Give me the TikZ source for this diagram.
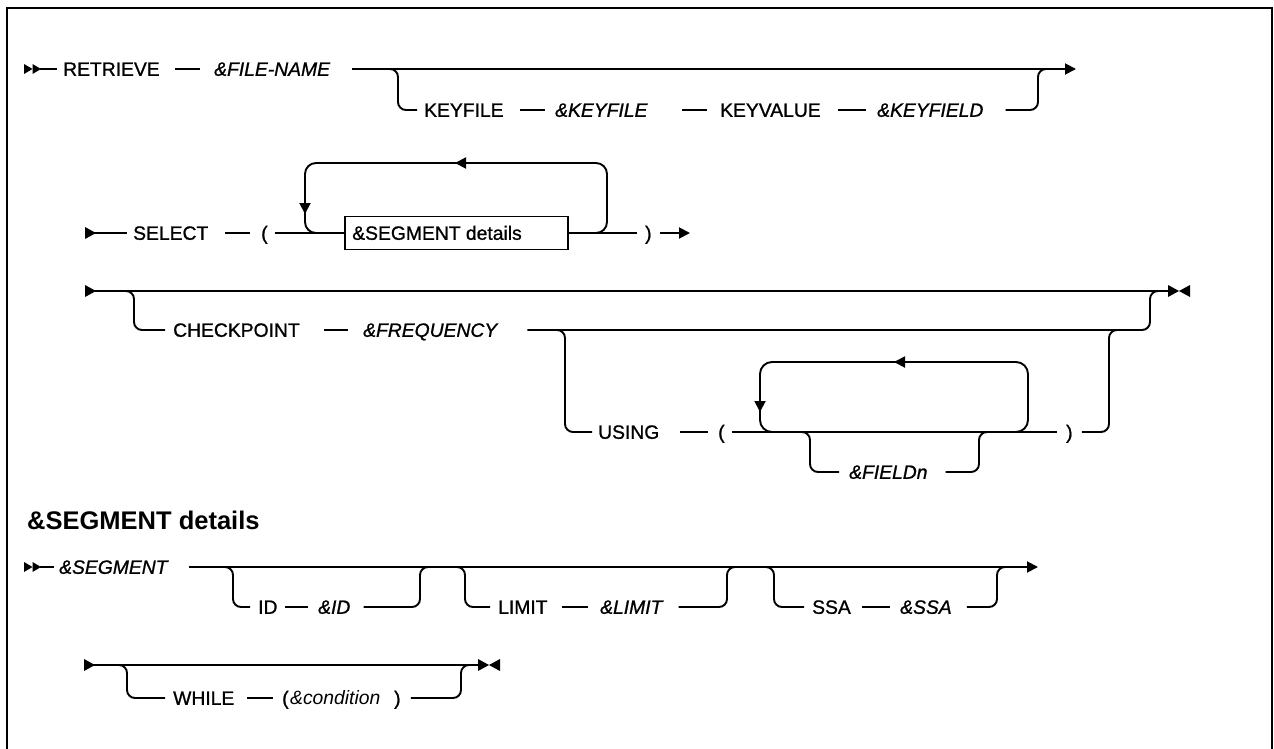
\documentclass[tikz,border=0pt]{standalone}
\usepackage{fontspec}
\setmainfont{Liberation Sans}[UprightFeatures={FakeBold=1.0}, ItalicFeatures={FakeBold=1.0}]
\newfontfamily\condfont{Liberation Sans}
\usetikzlibrary{arrows.meta}
\begin{document}
\begin{tikzpicture}[x=1pt,y=-1pt,
  kwd/.style={anchor=west, inner sep=0pt, font=\fontsize{19.3}{22}\selectfont, text height=14pt, text depth=0.4pt},
  vard/.style={kwd, font=\fontsize{19.3}{22}\selectfont\itshape},
  hdr/.style={anchor=west, inner sep=0pt, font=\fontsize{25.5}{30}\selectfont\bfseries},
  segbox/.style={draw, line width=1.8pt, inner sep=0pt, minimum width=223pt, minimum height=33pt},
  ln/.style={draw, line width=1.9pt},
  rnd/.style={ln, rounded corners=8pt},
  endtip/.style={-{Triangle[length=11pt,width=11pt]}},
]
\useasboundingbox (0,0) rectangle (1274,749);
% frame
\draw[line width=2.4pt] (7,749) -- (7,8) -- (1272,8) -- (1272,749);

% ---------------- Row 1 ----------------
\coordinate (r1s) at (24,69);
\fill (r1s) ++(0,-5) -- ++(8.5,5) -- ++(-8.5,5) -- cycle;
\fill (r1s) ++(8.5,-5) -- ++(8.5,5) -- ++(-8.5,5) -- cycle;
\node[kwd] (ret) at (63,69) {RETRIEVE};
\draw[ln] ([xshift=16pt]r1s) -- ([xshift=-6pt]ret.west);
\node[vard] (fn) at (214,69) {\&FILE-NAME};
\draw[ln] ([xshift=-39pt]fn.west) -- ([xshift=-14pt]fn.west);
\coordinate (r1e) at (1076,69);
\draw[ln,endtip] ([xshift=22pt]fn.east) -- (r1e);
\node[kwd] (kf) at (424,110) {KEYFILE};
\node[vard] (kfv) at (555,110) {\&KEYFILE};
\node[kwd] (kv) at (720,110) {KEYVALUE};
\node[vard] (kfd) at (877,110) {\&KEYFIELD};
\draw[ln] ([xshift=-35pt]kfv.west) -- ([xshift=-10pt]kfv.west);
\draw[ln] ([xshift=-38pt]kv.west) -- ([xshift=-13pt]kv.west);
\draw[ln] ([xshift=-39pt]kfd.west) -- ([xshift=-11pt]kfd.west);
\coordinate (b1l) at (398,69);
\coordinate (b1r) at (1038,69);
\draw[rnd] ([xshift=-14pt]b1l) -- (b1l) -- (b1l |- kf.west) -- ([xshift=-7pt]kf.west);
\draw[rnd] ([xshift=22pt]kfd.east) -- (b1r |- kfd.east) -- (b1r) -- ([xshift=12pt]b1r);

% ---------------- Row 2 ----------------
\coordinate (r2s) at (85,233);
\fill (r2s) ++(0,-6) -- ++(11,6) -- ++(-11,6) -- cycle;
\node[kwd] (sel) at (133,233) {SELECT};
\draw[ln] (r2s) -- ([xshift=-6pt]sel.west);
\node[kwd] (lp1) at (261,233) {(};
\draw[ln] ([xshift=-36pt]lp1.west) -- ([xshift=-11pt]lp1.west);
\node[segbox] (segb) at (456.5,233) {};
\node[kwd] (segt) at ([xshift=8pt]segb.west) {\&SEGMENT details};
\draw[ln] ([xshift=7pt]lp1.east) -- (segb.west);
\node[kwd] (rp1) at (645,233) {)};
\draw[ln] (segb.east) -- ([xshift=-8pt]rp1.west);
\coordinate (r2e) at (690,233);
\draw[ln,endtip] ([xshift=8pt]rp1.east) -- (r2e);
\coordinate (l1bl) at (305,233);
\coordinate (l1tl) at (305,163);
\coordinate (l1tr) at (607,163);
\coordinate (l1br) at (607,233);
\draw[ln, rounded corners=11pt] ([xshift=-22pt]l1br) -- (l1br) -- (l1tr) -- (l1tl) -- (l1bl) -- ([xshift=22pt]l1bl);
\coordinate (a2t) at (455,163);
\draw[ln,endtip] ([xshift=16pt]a2t) -- (a2t);
\coordinate (a2l) at (305,214);
\draw[ln,endtip] ([yshift=16pt]a2l) -- (a2l);

% ---------------- Row 3 ----------------
\coordinate (r3s) at (85,291);
\fill (r3s) ++(0,-6) -- ++(11,6) -- ++(-11,6) -- cycle;
\coordinate (r3e) at (1168,291);
\fill (r3e) ++(0,-6) -- ++(11,6) -- ++(-11,6) -- cycle;
\fill (r3e) ++(22,-6) -- ++(-11,6) -- ++(11,6) -- cycle;
\draw[ln] (r3s) -- (r3e);
\node[kwd] (ck) at (173,330) {CHECKPOINT};
\node[vard] (fq) at (363,330) {\&FREQUENCY};
\draw[ln] ([xshift=-39pt]fq.west) -- ([xshift=-15pt]fq.west);
\coordinate (b3l) at (134,291);
\coordinate (b3r) at (1150,291);
\draw[rnd] ([xshift=-14pt]b3l) -- (b3l) -- (b3l |- ck.west) -- ([xshift=-8pt]ck.west);
\draw[rnd] ([xshift=30pt]fq.east) -- (b3r |- fq.east) -- (b3r) -- ([xshift=10pt]b3r);
% USING
\node[kwd] (us) at (598,432) {USING};
\coordinate (b4l) at (565,330);
\coordinate (b4r) at (1109,330);
\draw[rnd] ([xshift=-12pt]b4l) -- (b4l) -- (b4l |- us.west) -- ([xshift=-6pt]us.west);
\node[kwd] (lp2) at (718,432) {(};
\draw[ln] ([xshift=-38pt]lp2.west) -- ([xshift=-10pt]lp2.west);
\node[kwd] (rp2) at (1066,432) {)};
\draw[ln] ([xshift=7pt]lp2.east) -- ([xshift=-9pt]rp2.west);
\draw[rnd] ([xshift=9pt]rp2.east) -- (b4r |- rp2.east) -- (b4r) -- ([xshift=10pt]b4r);
\coordinate (l2bl) at (760,432);
\coordinate (l2tl) at (760,362);
\coordinate (l2tr) at (1028,362);
\coordinate (l2br) at (1028,432);
\draw[ln, rounded corners=12pt] ([xshift=-22pt]l2br) -- (l2br) -- (l2tr) -- (l2tl) -- (l2bl) -- ([xshift=22pt]l2bl);
\coordinate (a3t) at (894,362);
\draw[ln,endtip] ([xshift=16pt]a3t) -- (a3t);
\coordinate (a3l) at (760,412);
\draw[ln,endtip] ([yshift=16pt]a3l) -- (a3l);
% &FIELDn
\node[vard] (fld) at (849,472) {\&FIELDn};
\coordinate (b5l) at (810,432);
\coordinate (b5r) at (979,432);
\draw[rnd] ([xshift=-12pt]b5l) -- (b5l) -- (b5l |- fld.west) -- ([xshift=-10pt]fld.west);
\draw[rnd] ([xshift=18pt]fld.east) -- (b5r |- fld.east) -- (b5r) -- ([xshift=12pt]b5r);

% ---------------- Header ----------------
\node[hdr] (hd) at (27,520) {\&SEGMENT details};

% ---------------- Row 4 ----------------
\coordinate (r4s) at (24,567);
\fill (r4s) ++(0,-5) -- ++(8.5,5) -- ++(-8.5,5) -- cycle;
\fill (r4s) ++(8.5,-5) -- ++(8.5,5) -- ++(-8.5,5) -- cycle;
\node[vard] (sg) at (59,567) {\&SEGMENT};
\draw[ln] ([xshift=16pt]r4s) -- ([xshift=-5pt]sg.west);
\coordinate (r4e) at (1038,567);
\draw[ln,endtip] ([xshift=21pt]sg.east) -- (r4e);
% ID
\node[kwd] (idk) at (258,607) {ID};
\node[vard] (idv) at (318,607) {\&ID};
\draw[ln] ([xshift=-33pt]idv.west) -- ([xshift=-10pt]idv.west);
\coordinate (b6l) at (233,567);
\coordinate (b6r) at (420,567);
\draw[rnd] ([xshift=-12pt]b6l) -- (b6l) -- (b6l |- idk.west) -- ([xshift=-8pt]idk.west);
\draw[rnd] ([xshift=13pt]idv.east) -- (b6r |- idv.east) -- (b6r) -- ([xshift=10pt]b6r);
% LIMIT
\node[kwd] (lmk) at (498,607) {LIMIT};
\node[vard] (lmv) at (600,607) {\&LIMIT};
\draw[ln] ([xshift=-38pt]lmv.west) -- ([xshift=-12pt]lmv.west);
\coordinate (b7l) at (465,567);
\coordinate (b7r) at (727,567);
\draw[rnd] ([xshift=-12pt]b7l) -- (b7l) -- (b7l |- lmk.west) -- ([xshift=-8pt]lmk.west);
\draw[rnd] ([xshift=16pt]lmv.east) -- (b7r |- lmv.east) -- (b7r) -- ([xshift=10pt]b7r);
% SSA
\node[kwd] (ssk) at (812,607) {SSA};
\node[vard] (ssv) at (900,607) {\&SSA};
\draw[ln] ([xshift=-38pt]ssv.west) -- ([xshift=-10pt]ssv.west);
\coordinate (b8l) at (774,567);
\coordinate (b8r) at (997,567);
\draw[rnd] ([xshift=-12pt]b8l) -- (b8l) -- (b8l |- ssk.west) -- ([xshift=-8pt]ssk.west);
\draw[rnd] ([xshift=15pt]ssv.east) -- (b8r |- ssv.east) -- (b8r) -- ([xshift=10pt]b8r);

% ---------------- Row 5 ----------------
\coordinate (r5s) at (84,665);
\fill (r5s) ++(0,-6) -- ++(11,6) -- ++(-11,6) -- cycle;
\coordinate (r5e) at (478,665);
\fill (r5e) ++(0,-6) -- ++(11,6) -- ++(-11,6) -- cycle;
\fill (r5e) ++(22,-6) -- ++(-11,6) -- ++(11,6) -- cycle;
\draw[ln] (r5s) -- (r5e);
\node[kwd] (wh) at (173,698) {WHILE};
\node[kwd] (lp3) at (282,698) {(};
\node[kwd, font=\fontsize{19.3}{22}\selectfont\condfont\itshape] (cnd) at (290,698) {\&condition};
\node[kwd] (rp3) at (394,698) {)};
\draw[ln] ([xshift=-35pt]lp3.west) -- ([xshift=-9pt]lp3.west);
\coordinate (b9l) at (127,665);
\coordinate (b9r) at (461,665);
\draw[rnd] ([xshift=-12pt]b9l) -- (b9l) -- (b9l |- wh.west) -- ([xshift=-8pt]wh.west);
\draw[rnd] ([xshift=10pt]rp3.east) -- (b9r |- rp3.east) -- (b9r) -- ([xshift=10pt]b9r);
\end{tikzpicture}
\end{document}
